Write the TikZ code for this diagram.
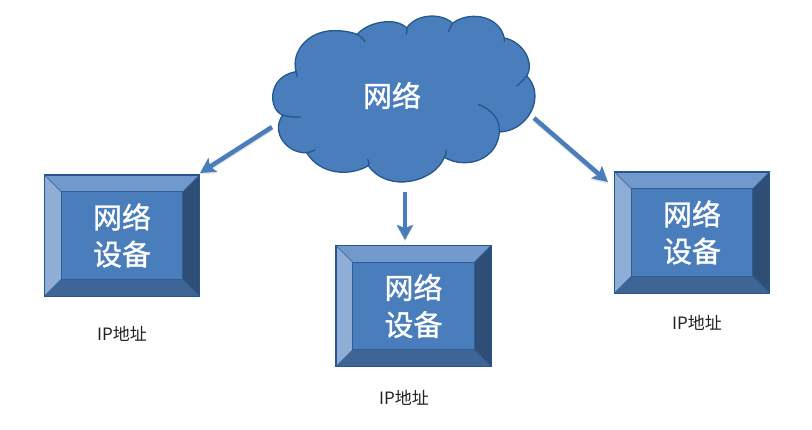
\documentclass[tikz,border=0pt]{standalone}
\usepackage{fontspec}
\newfontfamily\cjk{Noto Sans CJK SC}
\newfontfamily\cjkb[FakeBold=1.2]{Noto Sans CJK SC}
\usetikzlibrary{calc,arrows.meta}
\definecolor{face}{HTML}{4A7DBB}
\definecolor{edgeblue}{HTML}{26568F}
\definecolor{cloudedge}{HTML}{24578F}
\definecolor{bevtop}{HTML}{7299CC}
\definecolor{bevleft}{HTML}{8FAED6}
\definecolor{bevright}{HTML}{2F4E75}
\definecolor{bevbottom}{HTML}{3D6596}
\definecolor{labelgray}{HTML}{222222}
\tikzset{
  devicebox/.style={draw=edgeblue,line width=1.3pt,fill=face,minimum width=154pt,minimum height=120pt,inner sep=0pt},
  boxtext/.style={inner sep=0pt,text=white,align=center,font=\cjkb\fontsize{29}{37}\selectfont},
  iplabel/.style={text=labelgray,font=\cjk\fontsize{17}{18}\selectfont,inner sep=0pt},
  link/.style={draw=face,line width=4.5pt,-{Stealth[length=15pt,width=16pt,inset=3pt]}},
  linkshadow/.style={draw=black!25,line width=4.5pt,-{Stealth[length=15pt,width=16pt,inset=3pt]},opacity=.45},
  cloudtext/.style={text=white,font=\cjkb\fontsize{29}{37}\selectfont,inner sep=0pt}
}
\newcommand{\bevelbox}[2]{%
  \node[devicebox] (#1) at (#2) {};
  \fill[bevtop] (#1.north west) -- (#1.north east) -- ($(#1.north east)+(-17,17)$) -- ($(#1.north west)+(17,17)$) -- cycle;
  \fill[bevleft] (#1.north west) -- (#1.south west) -- ($(#1.south west)+(17,-17)$) -- ($(#1.north west)+(17,17)$) -- cycle;
  \fill[bevright] (#1.north east) -- (#1.south east) -- ($(#1.south east)+(-17,-17)$) -- ($(#1.north east)+(-17,17)$) -- cycle;
  \fill[bevbottom] (#1.south west) -- (#1.south east) -- ($(#1.south east)+(-17,-17)$) -- ($(#1.south west)+(17,-17)$) -- cycle;
  \draw[edgeblue,line width=1.3pt] (#1.north west) rectangle (#1.south east);
  \draw[edgeblue!80!face,line width=.9pt] ($(#1.north west)+(17,17)$) rectangle ($(#1.south east)+(-17,-17)$);
  \draw[edgeblue!80!face,line width=.6pt] (#1.north west) -- ++(17,17) (#1.north east) -- ++(-17,17) (#1.south west) -- ++(17,-17) (#1.south east) -- ++(-17,-17);
  \node[boxtext] (#1text) at (#1) {网络\\设备};
}
\begin{document}
\begin{tikzpicture}[x=1pt,y=-1pt]
\useasboundingbox (0,0) rectangle (812,429);
\begin{scope}[shift={(260,0)},x=0.3333pt,y=-0.3333pt]
\draw[cloudedge,line width=1.3pt,fill=face,line join=round]
 (108,215) .. controls (92,150) and (150,90) .. (225,92)
 .. controls (255,92) and (275,97) .. (292,103)
 .. controls (320,68) and (405,48) .. (440,84)
 .. controls (470,40) and (545,38) .. (578,70)
 .. controls (620,35) and (715,40) .. (733,114)
 .. controls (790,125) and (825,190) .. (800,228)
 .. controls (838,265) and (832,330) .. (785,370)
 .. controls (765,388) and (740,395) .. (718,396)
 .. controls (715,450) and (670,490) .. (610,488)
 .. controls (590,488) and (570,482) .. (553,472)
 .. controls (525,545) and (385,582) .. (325,497)
 .. controls (270,530) and (180,525) .. (140,458)
 .. controls (85,462) and (30,400) .. (68,345)
 .. controls (25,330) and (20,230) .. (108,215) -- cycle;
\draw[cloudedge,line width=1.3pt,fill=none,line cap=round]
 (292,103) .. controls (300,108) and (310,116) .. (315,125)
 (440,84) .. controls (442,90) and (441,96) .. (439,102)
 (578,70) .. controls (573,78) and (569,86) .. (565,95)
 (733,114) .. controls (734,118) and (734,120) .. (733,124)
 (800,228) .. controls (790,240) and (780,250) .. (770,258)
 (718,396) .. controls (722,360) and (695,328) .. (655,313)
 (553,472) .. controls (558,465) and (560,458) .. (558,450)
 (325,497) .. controls (331,492) and (326,485) .. (323,478)
 (140,458) .. controls (150,457) and (158,454) .. (165,450)
 (68,345) .. controls (82,350) and (100,352) .. (122,351)
 (108,215) .. controls (109,220) and (110,225) .. (112,230);
\end{scope}
\node[cloudtext] (cloud) at (392,95.5) {网络};
\bevelbox{left}{122,235.5}
\bevelbox{mid}{413.5,306}
\bevelbox{right}{692,232.5}
\node[iplabel] (ipleft) at (122,334) {IP地址};
\node[iplabel] (ipmid) at (404,398) {IP地址};
\node[iplabel] (ipright) at (697,323) {IP地址};
\coordinate (aL) at (272,127);
\coordinate (bL) at (200,173);
\coordinate (aM) at (405,192);
\coordinate (bM) at (405,240);
\coordinate (aR) at (534,118);
\coordinate (bR) at (608,182);
\draw[linkshadow] ($(aL)+(0,1.5)$) -- ($(bL)+(0,1.5)$);
\draw[linkshadow] ($(aM)+(0,1.5)$) -- ($(bM)+(0,1.5)$);
\draw[linkshadow] ($(aR)+(0,1.5)$) -- ($(bR)+(0,1.5)$);
\draw[link] (aL) -- (bL);
\draw[link] (aM) -- (bM);
\draw[link] (aR) -- (bR);
\end{tikzpicture}
\end{document}
